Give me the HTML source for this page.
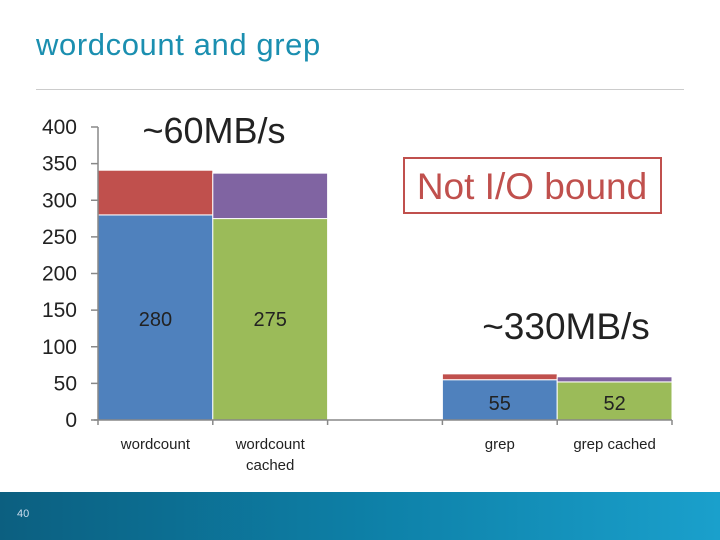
<!DOCTYPE html>
<html><head><meta charset="utf-8"><style>
body{margin:0;width:720px;height:540px;overflow:hidden;background:#fff;font-family:"Liberation Sans","DejaVu Sans",sans-serif;position:relative}
#title{position:absolute;left:36px;top:27px;font-size:31px;letter-spacing:0.6px;color:#1b8fb0}
#rule{position:absolute;left:36px;top:89px;width:648px;height:1px;background:#ccc}
#footer{position:absolute;left:0;top:492px;width:720px;height:48px;background:linear-gradient(90deg,#0c5f80,#0d7fa6 50%,#1aa0cc)}
#pg{position:absolute;left:17px;top:508px;color:#cde;font-size:11px}
</style></head><body>
<div id="title">wordcount and grep</div>
<div id="rule"></div>
<svg id="chart" width="720" height="540" style="position:absolute;left:0;top:0"></svg>
<div id="footer"></div>
<div id="pg">40</div>
<script>
const categories=["wordcount","wordcount cached","","grep","grep cached"];
const baseValues=[280,275,null,55,52];
const extraValues=[61,62,null,8,7];
const baseLabels=["280","275","","55","52"];
const yTicks=[0,50,100,150,200,250,300,350,400];
const baseColors=["#4f81bd","#9bbb59",null,"#4f81bd","#9bbb59"];
const extraColors=["#c0504d","#8064a2",null,"#c0504d","#8064a2"];
const svg=document.getElementById('chart');
const NS="http://www.w3.org/2000/svg";
const x0=98,x1=672,y0=420,yTop=127;
const slot=(x1-x0)/categories.length;
const Y=v=>y0-(v/400)*(y0-yTop);
const X=i=>x0+i*slot;
function mk(t,a,txt){const e=document.createElementNS(NS,t);for(const k in a)e.setAttribute(k,a[k]);if(txt!=null)e.textContent=txt;svg.appendChild(e);return e;}
categories.forEach((c,i)=>{
 if(baseValues[i]==null)return;
 let r=mk('rect',{x:X(i),y:Y(baseValues[i]),width:slot,height:y0-Y(baseValues[i]),fill:baseColors[i],stroke:'#fff','stroke-width':1});
 
 
 let r2=mk('rect',{x:X(i),y:Y(baseValues[i]+extraValues[i]),width:slot,height:Y(baseValues[i])-Y(baseValues[i]+extraValues[i]),fill:extraColors[i],stroke:'#fff','stroke-width':1});
 
 
 let t=mk('text',{x:X(i)+slot/2,y:i<3?326:410,'text-anchor':'middle','font-size':20,fill:'#222'},baseLabels[i]);
 
 
});
categories.forEach((c,i)=>{
 if(!c)return;
 const parts=c.split(' ');
 const lines=(c==="wordcount cached")?parts:[c];
 lines.forEach((l,j)=>{let t=mk('text',{x:X(i)+slot/2,y:449+j*21,'text-anchor':'middle','font-size':15,fill:'#222'},l);
 
 });
});
let ax=mk('line',{x1:x0,y1:yTop,x2:x0,y2:y0,stroke:'#888','stroke-width':1.5});


let hx=mk('line',{x1:x0-4,y1:y0,x2:x1,y2:y0,stroke:'#888','stroke-width':1.5});


for(let i=0;i<=categories.length;i++){mk('line',{x1:X(i),y1:y0,x2:X(i),y2:y0+5,stroke:'#888','stroke-width':1.5});}
yTicks.forEach(v=>{
 mk('line',{x1:x0-7,y1:Y(v),x2:x0,y2:Y(v),stroke:'#888','stroke-width':1.5});
 let t=mk('text',{x:77,y:Y(v)+7,'text-anchor':'end','font-size':21,fill:'#222'},String(v));
 
 
});
let a1=mk('text',{x:214,y:143,'text-anchor':'middle','font-size':36,fill:'#222'},'~60MB/s');


let a2=mk('text',{x:566,y:339,'text-anchor':'middle','font-size':37,fill:'#222'},'~330MB/s');


let bx=mk('rect',{x:404,y:158,width:257,height:55,fill:'none',stroke:'#c0504d','stroke-width':2});


let a3=mk('text',{x:532,y:199,'text-anchor':'middle','font-size':37,fill:'#c0504d'},'Not I/O bound');


</script>
</body></html>
